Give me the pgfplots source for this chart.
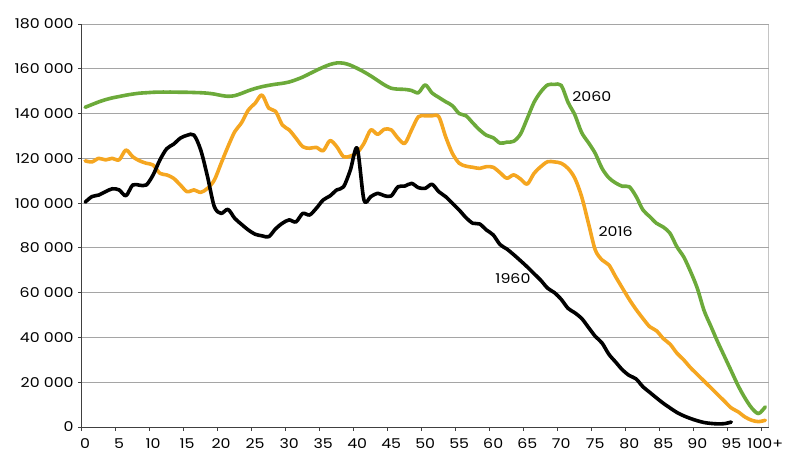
\documentclass[border=0pt]{standalone}
\usepackage{fontspec}
\setmainfont{Poppins}[FakeStretch=1.17]
\usepackage{pgfplots}
\usepackage{pgfplotstable}
\pgfplotsset{compat=1.18}

\definecolor{grn}{RGB}{108,170,58}
\definecolor{org}{RGB}{245,166,32}
\definecolor{gridc}{RGB}{165,165,165}

% population by age (single year, 100 = 100+)
\pgfplotstableread{
age y1960 y2016 y2060
0 100400 118900 142800
1 102900 118400 144000
2 103600 120000 145200
3 105100 119300 146200
4 106400 120000 147000
5 105900 119300 147600
6 103300 123700 148200
7 108100 120700 148700
8 108000 118900 149100
9 108100 117800 149300
10 112600 117000 149500
11 119300 113300 149600
12 124300 112600 149600
13 126300 111100 149600
14 129000 108100 149500
15 130300 105100 149500
16 130400 105900 149400
17 123700 104800 149300
18 111800 106600 149100
19 98400 110300 148700
20 95400 117800 148100
21 97200 125200 147700
22 93200 131900 148000
23 90500 135900 149000
24 88000 141600 150200
25 86100 144600 151200
26 85400 148300 152000
27 85000 142400 152600
28 88500 141000 153100
29 91000 134900 153500
30 92500 132700 154100
31 91600 129000 155100
32 95400 125200 156300
33 94700 124500 157800
34 97700 124900 159300
35 101400 123400 160700
36 103200 127900 161900
37 105900 125200 162600
38 107300 120700 162500
39 114800 121000 161600
40 124500 122500 160200
41 101400 126700 158600
42 102900 132700 156800
43 104400 130700 154800
44 103300 133000 152800
45 103200 132700 151300
46 107300 129000 150900
47 107600 126700 150800
48 108800 132700 150300
49 106900 138600 149300
50 106600 139000 152800
51 108400 139000 149200
52 105100 138600 147200
53 102900 129700 145300
54 99900 122200 143500
55 96900 117800 140000
56 93500 116500 139000
57 91000 116000 135800
58 90700 115500 132700
59 88000 116300 130300
60 85800 116000 129200
61 81500 113600 126800
62 79500 111100 127200
63 77000 112600 127600
64 74300 110800 130800
65 71500 108500 137800
66 68500 113300 145000
67 65500 116300 149700
68 62000 118500 152800
69 60000 118400 153000
70 57000 117800 152600
71 53000 115500 145000
72 51000 111100 139400
73 48500 102900 131500
74 44500 91000 127000
75 40500 79100 122200
76 37500 74600 115500
77 32500 72400 111300
78 29000 67100 109000
79 25500 62000 107500
80 23000 57000 107300
81 21500 52500 103000
82 18000 48500 97000
83 15500 44800 94000
84 13000 43000 91000
85 10600 39500 89300
86 8500 37000 86500
87 6500 33000 80500
88 5000 30000 76000
89 3800 26500 69500
90 2800 23500 62000
91 2000 20500 52000
92 1600 17500 45000
93 1400 14500 38000
94 1500 11500 31500
95 2200 8500 25000
96 nan 6800 18500
97 nan 4500 13000
98 nan 3000 8500
99 nan 2400 6000
100 nan 3000 9000
}\pop

\begin{document}
\begin{tikzpicture}[font=\fontsize{13.5}{16}\selectfont]
\begin{axis}[
    scale only axis,
    width=687pt, height=403pt,
    xmin=-0.5, xmax=100.5,
    ymin=0, ymax=180000,
    xtick={-0.5,4.5,...,99.5},
    xticklabels={0,5,10,15,20,25,30,35,40,45,50,55,60,65,70,75,80,85,90,95,100+},
    xticklabel style={xshift=3.4pt, yshift=-5pt},
    ytick={0,20000,...,180000},
    yticklabels={0,20 000,40 000,60 000,80 000,100 000,120 000,140 000,160 000,180 000},
    yticklabel style={xshift=-1pt},
    scaled y ticks=false,
    ymajorgrids,
    grid style={gridc, line width=0.8pt},
    axis x line*=bottom, axis y line*=left,
    axis line style={-, black!75, line width=1pt},
    tick align=outside,
    major tick length=3.5pt,
    tick style={black!75, line width=0.9pt},
    unbounded coords=jump,
    every axis plot/.append style={smooth, line width=3.6pt, no markers, line join=round, line cap=round},
]
\addplot[grn] table[x=age, y=y2060] {\pop};
\addplot[org] table[x=age, y=y2016] {\pop};
\addplot[black] table[x=age, y=y1960] {\pop};

\draw[gridc, line width=0.8pt] (rel axis cs:1,0) -- (rel axis cs:1,1);

\node at (axis cs:74.5,147400) {2060};
\node at (axis cs:78,87100) {2016};
\node at (axis cs:62.9,66100) {1960};
\end{axis}
\path (current axis.south west) ++(-81.7pt,-44pt) rectangle ++(800pt,471pt);
\end{tikzpicture}
\end{document}
